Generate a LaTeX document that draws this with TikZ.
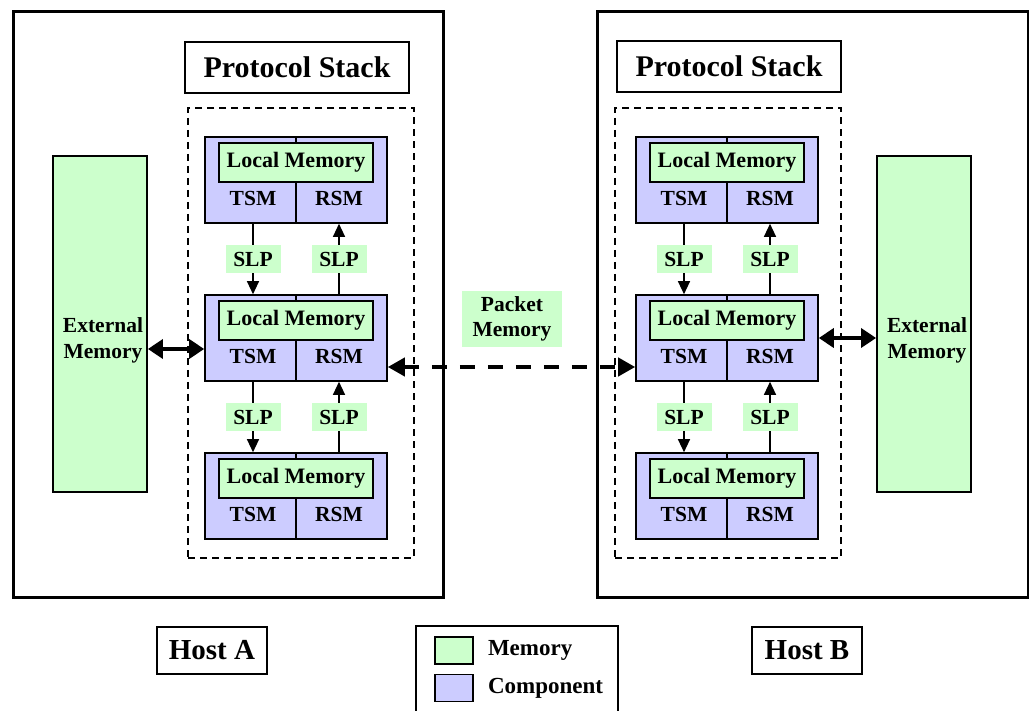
\documentclass[tikz,border=0pt]{standalone}
\usepackage{fontspec}
\setmainfont{Liberation Serif}
\usetikzlibrary{arrows.meta,positioning}
\definecolor{PSgreen}{RGB}{204,255,204}
\definecolor{PSblue}{RGB}{204,204,255}
\tikzset{
  host/.style={draw,line width=3pt,minimum height=585pt,inner sep=0pt},
  title/.style={draw,line width=1.6pt,fill=white,minimum width=224pt,minimum height=51pt,
                inner sep=0pt,font=\fontsize{30}{32}\selectfont\bfseries},
  stackbox/.style={draw,line width=1.2pt,dash pattern=on 7pt off 5pt,
                   minimum width=226pt,minimum height=450pt,inner sep=0pt},
  extmem/.style={draw,line width=1.8pt,fill=PSgreen,minimum width=94pt,
                 minimum height=336pt,inner sep=0pt},
  comp/.style={draw,line width=1.6pt,fill=PSblue,minimum width=182pt,
               minimum height=86pt,inner sep=0pt},
  locmem/.style={draw,line width=1.6pt,fill=PSgreen,minimum width=154pt,
                 minimum height=39pt,inner sep=0pt,font=\fontsize{22}{22}\selectfont\bfseries},
  lbl/.style={inner sep=0pt,align=center,font=\fontsize{21.5}{26}\selectfont\bfseries},
  slp/.style={fill=PSgreen,minimum width=55pt,minimum height=28pt,inner sep=0pt,
              font=\fontsize{21.5}{22}\selectfont\bfseries},
  pktlbl/.style={fill=PSgreen,minimum width=100pt,minimum height=56pt,inner sep=0pt,
                 align=center,font=\fontsize{21.5}{25}\selectfont\bfseries},
  hostlbl/.style={draw,line width=1.8pt,minimum width=110pt,minimum height=47pt,
                  inner sep=0pt,font=\fontsize{29}{30}\selectfont\bfseries},
  swatch/.style={draw,line width=1.6pt,minimum width=38pt,minimum height=27pt,inner sep=0pt},
  legtext/.style={inner sep=0pt,font=\fontsize{23}{24}\selectfont\bfseries},
  divline/.style={line width=1.4pt},
  slpline/.style={line width=1.2pt},
  slparr/.style={-{Triangle[length=13pt,width=12pt]},line width=1.2pt},
  dbl/.style={{Triangle[length=15pt,width=19pt]}-{Triangle[length=15pt,width=19pt]},line width=3.5pt},
  pktarr/.style={{Triangle[length=17pt,width=18pt]}-{Triangle[length=17pt,width=18pt]},
                 line width=4pt,dash pattern=on 15pt off 13pt}
}
\begin{document}
\begin{tikzpicture}[x=1pt,y=-1pt]
  \useasboundingbox (0,0) rectangle (1029,711);
  % hosts
  \node[host,minimum width=430pt] (hostA) at (228,304.5) {};
  \node[host,minimum width=431pt] (hostB) at (812.5,304.5) {};
  \node[title] (psA) at (297,67.5) {Protocol Stack};
  \node[title] (psB) at (729,66.5) {Protocol Stack};
  \node[stackbox] (stkA) at (301,333) {};
  \node[stackbox] (stkB) at (728,333) {};
  % external memory
  \node[extmem] (extA) at (100,324) {};
  \node[lbl] at (103,340) {External\\Memory};
  \node[extmem] (extB) at (924,324) {};
  \node[lbl] at (927,340) {External\\Memory};
  % component layers
  \foreach \s/\cx in {A/296,B/727}{
    \foreach \r/\cy in {1/180,2/338,3/496}{
      \node[comp] (blk\s\r) at (\cx,\cy) {};
      \draw[divline] (blk\s\r.north) -- (blk\s\r.south);
      \node[locmem] (lm\s\r) at ([yshift=17.5pt]blk\s\r.center) {Local Memory};
      \node[lbl] (tsm\s\r) at ([shift={(-43pt,-18pt)}]blk\s\r.center) {TSM};
      \node[lbl] (rsm\s\r) at ([shift={(43pt,-18pt)}]blk\s\r.center) {RSM};
    }
    \foreach \g/\cy in {1/259,2/417}{
      \node[slp] (slpd\s\g) at (\cx-43,\cy) {SLP};
      \node[slp] (slpu\s\g) at (\cx+43,\cy) {SLP};
    }
  }
  \foreach \s in {A,B}{
    \foreach \g/\n in {1/2,2/3}{
      \draw[slpline] ([xshift=-43pt]blk\s\g.south) -- (slpd\s\g);
      \draw[slparr] (slpd\s\g) -- ([xshift=-43pt]blk\s\n.north);
      \draw[slpline] ([xshift=43pt]blk\s\n.north) -- (slpu\s\g);
      \draw[slparr] (slpu\s\g) -- ([xshift=43pt]blk\s\g.south);
    }
  }
  % links
  \node[pktlbl] (pkt) at (512,319) {Packet\\Memory};
  \draw[dbl] ([yshift=-25pt]extA.east) -- ([yshift=-25pt]extA.east -| blkA2.west);
  \draw[dbl] (blkB2.east) -- (blkB2.east -| extB.west);
  \draw[pktarr] ([yshift=-29pt]blkA2.east) -- ([yshift=-29pt]blkB2.west);
  % labels and legend
  \node[hostlbl] (lblA) at (212,650.5) {Host A};
  \node[hostlbl] (lblB) at (807,650.5) {Host B};
  \draw[line width=1.6pt] (416,716) -- (416,626) -- (618,626) -- (618,716);
  \node[swatch,fill=PSgreen] (swMem) at (454,650.5) {};
  \node[swatch,fill=PSblue] (swComp) at (454,688) {};
  \node[legtext,right=14pt of swMem] (txMem) {Memory};
  \node[legtext,right=14pt of swComp] (txComp) {Component};
\end{tikzpicture}
\end{document}
